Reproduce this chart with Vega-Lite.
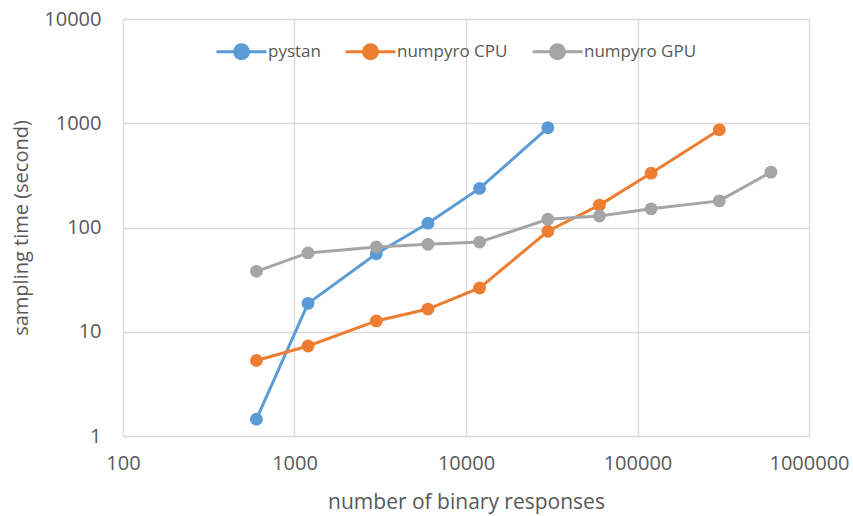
{
  "$schema": "https://vega.github.io/schema/vega-lite/v6.json",
  "width": 686,
  "height": 417,
  "autosize": {"type": "none"},
  "padding": {"left": 123, "top": 19, "right": 44, "bottom": 80},
  "background": "white",
  "config": {
    "view": {"stroke": null},
    "font": "Open Sans",
    "axis": {
      "labelFont": "Open Sans",
      "titleFont": "Open Sans",
      "labelColor": "#595959",
      "titleColor": "#595959",
      "labelFontSize": 20,
      "titleFontSize": 21,
      "titleFontWeight": "normal",
      "domain": false,
      "ticks": false,
      "grid": true,
      "gridColor": "#D9D9D9",
      "gridWidth": 1.3
    },
    "legend": {
      "labelFont": "Open Sans",
      "labelFontSize": 17,
      "labelColor": "#595959"
    }
  },
  "data": {
    "values": [
      {"series": "pystan", "n": 600, "t": 1.45},
      {"series": "pystan", "n": 1200, "t": 18.7},
      {"series": "pystan", "n": 3000, "t": 56},
      {"series": "pystan", "n": 6000, "t": 110},
      {"series": "pystan", "n": 12000, "t": 237},
      {"series": "pystan", "n": 30000, "t": 905},
      {"series": "numpyro CPU", "n": 600, "t": 5.3},
      {"series": "numpyro CPU", "n": 1200, "t": 7.3},
      {"series": "numpyro CPU", "n": 3000, "t": 12.7},
      {"series": "numpyro CPU", "n": 6000, "t": 16.5},
      {"series": "numpyro CPU", "n": 12000, "t": 26.3},
      {"series": "numpyro CPU", "n": 30000, "t": 92},
      {"series": "numpyro CPU", "n": 60000, "t": 164},
      {"series": "numpyro CPU", "n": 120000, "t": 332},
      {"series": "numpyro CPU", "n": 300000, "t": 865},
      {"series": "numpyro GPU", "n": 600, "t": 38},
      {"series": "numpyro GPU", "n": 1200, "t": 57},
      {"series": "numpyro GPU", "n": 3000, "t": 65},
      {"series": "numpyro GPU", "n": 6000, "t": 69},
      {"series": "numpyro GPU", "n": 12000, "t": 72.5},
      {"series": "numpyro GPU", "n": 30000, "t": 120},
      {"series": "numpyro GPU", "n": 60000, "t": 129},
      {"series": "numpyro GPU", "n": 120000, "t": 151},
      {"series": "numpyro GPU", "n": 300000, "t": 180},
      {"series": "numpyro GPU", "n": 600000, "t": 340}
    ]
  },
  "encoding": {
    "x": {
      "field": "n",
      "type": "quantitative",
      "scale": {"type": "log", "domain": [100, 1000000], "nice": false},
      "axis": {
        "title": "number of binary responses",
        "values": [100, 1000, 10000, 100000, 1000000],
        "format": "d",
        "labelPadding": 17,
        "titlePadding": 18,
        "labelFlush": false
      }
    },
    "y": {
      "field": "t",
      "type": "quantitative",
      "scale": {"type": "log", "domain": [1, 10000], "nice": false},
      "axis": {
        "title": "sampling time (second)",
        "values": [1, 10, 100, 1000, 10000],
        "format": "d",
        "labelPadding": 22,
        "titlePadding": 12,
        "titleFontSize": 20,
        "labelFlush": false
      }
    },
    "color": {
      "field": "series",
      "type": "nominal",
      "scale": {
        "domain": ["pystan", "numpyro CPU", "numpyro GPU"],
        "range": ["#5B9BD5", "#ED7D31", "#A5A5A5"]
      },
      "legend": {
        "title": null,
        "orient": "none",
        "direction": "horizontal",
        "legendX": 92,
        "legendY": 6,
        "columnPadding": 18,
        "labelOffset": 0,
        "symbolType": "M-1,0L1,0M-0.28,0A0.28,0.28,0,1,1,0.28,0A0.28,0.28,0,1,1,-0.28,0Z",
        "symbolSize": 2500,
        "symbolStrokeWidth": 3,
        "encode": {
          "symbols": {
            "update": {
              "fill": {"scale": "color", "field": "value"},
              "stroke": {"scale": "color", "field": "value"},
              "opacity": {"value": 1}
            }
          }
        }
      }
    }
  },
  "layer": [
    {
      "mark": {"type": "line", "strokeWidth": 3},
      "encoding": {"detail": {"field": "series"}}
    },
    {
      "mark": {"type": "point", "filled": true, "size": 165, "opacity": 1, "shape": "circle"}
    }
  ]
}
